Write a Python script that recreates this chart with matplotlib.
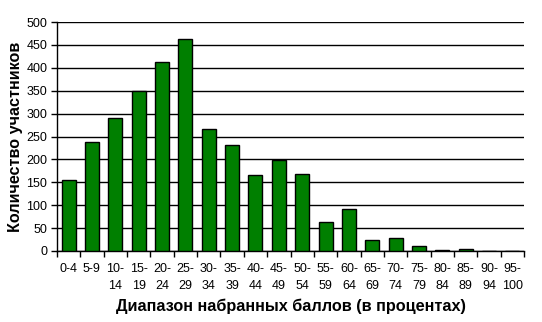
import matplotlib.pyplot as plt
import numpy as np

plt.rcParams['font.family'] = ['Liberation Sans', 'DejaVu Sans']

ranges = ['0-4', '5-9', '10-\n14', '15-\n19', '20-\n24', '25-\n29', '30-\n34',
          '35-\n39', '40-\n44', '45-\n49', '50-\n54', '55-\n59', '60-\n64',
          '65-\n69', '70-\n74', '75-\n79', '80-\n84', '85-\n89', '90-\n94', '95-\n100']
counts = [155, 238, 291, 350, 413, 463, 266, 231, 165, 199,
          168, 63, 92, 24, 28, 12, 2, 4, 0, 0]
yticks = [0, 50, 100, 150, 200, 250, 300, 350, 400, 450, 500]

fig = plt.figure(figsize=(5.42, 3.22), dpi=100)
ax = fig.add_axes([0.105, 0.2205, 0.862, 0.711])

x = np.arange(len(ranges))
ax.bar(x, counts, width=0.6, color='#007f00', edgecolor='black', linewidth=1, zorder=3)

ax.set_xlim(-0.5, len(ranges) - 0.5)
ax.set_ylim(0, 500)
ax.set_yticks(yticks)
ax.yaxis.grid(True, color='black', linewidth=1)
ax.set_axisbelow(True)

ax.set_xticks(x)
ax.set_xticklabels(ranges, fontsize=9, linespacing=1.45)
ax.tick_params(axis='x', which='major', length=0, pad=9)
ax.set_xticks(np.arange(len(ranges) + 1) - 0.5, minor=True)
ax.tick_params(axis='x', which='minor', length=4, width=1)
ax.tick_params(axis='y', labelsize=9, length=4, width=1, pad=3)

for s in ['top', 'right']:
    ax.spines[s].set_visible(False)
ax.spines['left'].set_linewidth(1)
ax.spines['bottom'].set_linewidth(1)

ax.set_ylabel('Количество участников', fontsize=11.6, fontweight='bold')
ax.yaxis.set_label_coords(-0.0728, 0.5)
ax.set_xlabel('Диапазон набранных баллов (в процентах)', fontsize=11.7,
              fontweight='bold', labelpad=5)

fig.savefig('out.png', dpi=100)
